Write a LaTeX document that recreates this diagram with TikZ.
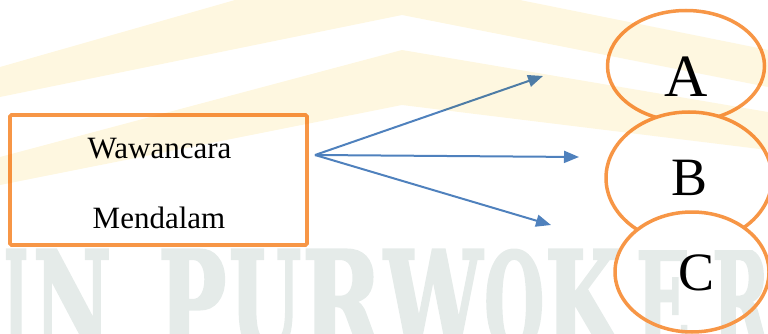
\documentclass[tikz,border=0pt]{standalone}
\usepackage{fontspec}
\setmainfont{Liberation Serif}
\newfontfamily\markfont[FakeBold=2.5]{DejaVu Serif}
\usetikzlibrary{arrows.meta,shapes.geometric}

\definecolor{accentorange}{HTML}{F79646}
\definecolor{accentblue}{HTML}{4F81BD}
\definecolor{markyellow}{HTML}{FEF7E0}
\definecolor{markgrey}{HTML}{E5EBE9}

\tikzset{
  methodbox/.style={draw=accentorange, line width=3.8pt, rounded corners=1.5pt,
    minimum width=297pt, minimum height=130pt, inner sep=0pt},
  boxlabel/.style={anchor=base, font=\fontsize{31}{31}\selectfont, inner sep=0pt},
  resultoval/.style={ellipse, draw=accentorange, fill=white, line width=3.5pt, inner sep=0pt},
  flow/.style={draw=accentblue, line width=2pt,
    -{Triangle[length=15pt,width=12pt]}},
  markletter/.style={anchor=north west, inner sep=0pt, text=markgrey},
  ovalC/.style={minimum width=154pt, minimum height=120pt},
}

\begin{document}
\begin{tikzpicture}[x=1pt,y=-1pt]
\useasboundingbox (0,0) rectangle (768,334);

% grey lettering along the foot of the page
\begin{scope}
\clip (0,0) rectangle (768,334);
\foreach \ch/\x/\w [count=\i] in {I/4/24, N/33/78, P/158/68, U/229/72,
    R/302/80, W/384/98, O/484/60, K/545/76, E/636/54, R/712/58}
  \node[markletter] (mark\i) at (\x,250)
    {\resizebox{\w pt}{100pt}{\markfont\bfseries \ch}};
\end{scope}

% source box
\node[methodbox] (box) at (158.5,180) {};
\node[boxlabel] (l1) at (159.5,158) {Wawancara};
\node[boxlabel] (l2) at (159,228) {Mendalam};

% result ovals, each drawn over the previous one
\node[resultoval, minimum width=157pt, minimum height=111pt] (A) at (686,66) {};
\node[resultoval, minimum width=166pt, minimum height=132pt] (B) at (689,178) {};
% C only blanks out what lies above the lettering
\begin{scope}
\clip (600,200) rectangle (768,249);
\node[ellipse, fill=white, inner sep=0pt, ovalC] (Cfill) at (692,272) {};
\end{scope}
\node[resultoval, fill=none, ovalC] (C) at (692,272) {};
\node[anchor=base, font=\fontsize{60}{60}\selectfont, inner sep=0pt] (tA) at (686,97) {A};
\node[anchor=base, font=\fontsize{54}{54}\selectfont, inner sep=0pt] (tB) at (689,195) {B};
\node[anchor=base, font=\fontsize{54}{54}\selectfont, inner sep=0pt] (tC) at (696,290) {C};

% fan of arrows
\coordinate (hub) at (315,155);
\coordinate (tipA) at (543,76);
\coordinate (tipB) at (579,157);
\coordinate (tipC) at (551,225);
\draw[flow] (hub) -- (tipA);
\draw[flow] (hub) -- (tipB);
\draw[flow] (hub) -- (tipC);

% faint yellow bands, multiplied over the drawing
\begin{scope}[blend mode=multiply]
\clip (0,0) rectangle (768,334);
\fill[markyellow] (0,67) -- (235,0) -- (520,0) -- (768,50) -- (768,87)
  -- (402,15) -- (0,97) -- cycle;
\fill[markyellow] (0,157) -- (402,50) -- (768,112) -- (768,150)
  -- (402,105) -- (0,185) -- cycle;
\end{scope}
\end{tikzpicture}
\end{document}
